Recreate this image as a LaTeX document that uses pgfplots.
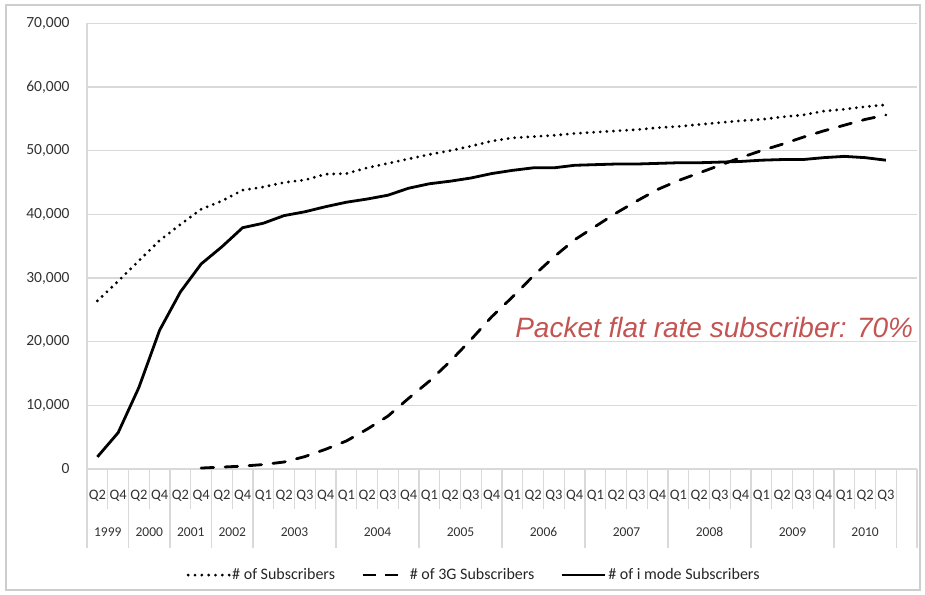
\documentclass[border=0pt]{standalone}
\usepackage{fontspec}
\setmainfont{Carlito}
\newfontfamily\arialf{Liberation Sans}
\usepackage{pgfplots}
\usepackage{pgfplotstable}
\pgfplotsset{compat=1.18}
\usetikzlibrary{calc}

\definecolor{gridc}{RGB}{217,217,217}
\definecolor{framec}{RGB}{205,205,205}
\definecolor{labc}{RGB}{50,50,50}
\definecolor{annot}{RGB}{196,84,82}

% legend samples, one per line style
\pgfplotsset{
  dotlegend/.style={legend image code/.code={%
    \draw[##1, dash pattern=on 0pt off 6.83pt] (0pt,0pt) -- (41pt,0pt);
    \path (-1.5pt,0pt) (40.5pt,0pt);}},
  dashlegend/.style={legend image code/.code={%
    \draw[##1, line cap=butt, dash pattern=on 13pt off 9pt] (0pt,0pt) -- (35pt,0pt);
    \path (0pt,0pt) (44pt,0pt);}},
  solidlegend/.style={legend image code/.code={%
    \draw[##1] (0pt,0pt) -- (43pt,0pt);}},
}

% slot i is centred at i+0.5; 1999-2002 half-yearly, then quarterly
\pgfplotstableread{
x    total  imode
0.5  26400  1900
1.5  29500  5700
2.5  32700  12800
3.5  35900  21800
4.5  38400  27800
5.5  40800  32200
6.5  42100  34900
7.5  43800  37900
8.5  44300  38600
9.5  45000  39800
10.5 45400  40400
11.5 46300  41200
12.5 46400  41900
13.5 47300  42400
14.5 48000  43000
15.5 48700  44100
16.5 49400  44800
17.5 50000  45200
18.5 50700  45700
19.5 51500  46400
20.5 52000  46900
21.5 52200  47300
22.5 52400  47300
23.5 52700  47700
24.5 52900  47800
25.5 53100  47900
26.5 53300  47900
27.5 53600  48000
28.5 53800  48100
29.5 54100  48100
30.5 54400  48200
31.5 54700  48300
32.5 54900  48500
33.5 55300  48600
34.5 55600  48600
35.5 56200  48900
36.5 56500  49100
37.5 56900  48900
38.5 57200  48500
}\datamain

\pgfplotstableread{
x    g3
5.5  150
6.5  300
7.5  450
8.5  700
9.5  1100
10.5 1950
11.5 3100
12.5 4400
13.5 6250
14.5 8300
15.5 11100
16.5 13800
17.5 16900
18.5 20300
19.5 23900
20.5 27000
21.5 30300
22.5 33300
23.5 36000
24.5 38100
25.5 40200
26.5 42100
27.5 43900
28.5 45300
29.5 46500
30.5 47700
31.5 48900
32.5 50000
33.5 51000
34.5 52100
35.5 53100
36.5 54000
37.5 54900
38.5 55600
}\datathreeg

\begin{document}
\begin{tikzpicture}
\begin{axis}[
    name=ax,
    scale only axis,
    width=830pt, height=445.7pt,
    xmin=0, xmax=40,
    ymin=0, ymax=70000,
    clip=false,
    no marks,
    axis lines*=left,
    axis line style={gridc, line width=1.2pt},
    major tick length=0pt,
    ytick={0,10000,...,70000},
    ymajorgrids,
    grid style={gridc, line width=1.2pt},
    scaled y ticks=false,
    /pgf/number format/1000 sep={,},
    /pgf/number format/assume math mode=true,
    yticklabel style={font=\fontsize{15.5}{18}\selectfont, text=labc, xshift=-14pt},
    xtick={0.5,1.5,...,38.5},
    xticklabels={Q2,Q4,Q2,Q4,Q2,Q4,Q2,Q4,
      Q1,Q2,Q3,Q4,Q1,Q2,Q3,Q4,Q1,Q2,Q3,Q4,Q1,Q2,Q3,Q4,
      Q1,Q2,Q3,Q4,Q1,Q2,Q3,Q4,Q1,Q2,Q3,Q4,Q1,Q2,Q3},
    xticklabel style={anchor=base, yshift=-30pt, font=\fontsize{14.5}{17}\selectfont, text=labc},
    legend columns=3,
    legend cell align=left,
    legend style={at={(0.118,-0.238)}, anchor=west, draw=none, fill=none,
      inner sep=0pt, nodes={inner xsep=1.5pt},
      font=\fontsize{16}{19}\selectfont, text=black!85,
      /tikz/every even column/.append style={column sep=25pt}},
]
\addplot[black, line width=3.1pt, line cap=round, dash pattern=on 0pt off 6.6pt, dotlegend]
  table[x=x, y=total] {\datamain};
\addlegendentry{\# of Subscribers}
\addplot[black, line width=2.8pt, line cap=round, dash pattern=on 12.5pt off 11.5pt, dashlegend]
  table[x=x, y=g3] {\datathreeg};
\addlegendentry{\# of 3G Subscribers}
\addplot[black, line width=2.8pt, line join=round, solidlegend]
  table[x=x, y=imode] {\datamain};
\addlegendentry{\# of i mode Subscribers}

% category table under the axis
\pgfplotsinvokeforeach{0,...,40}{
  \draw[gridc, line width=1.2pt] (axis cs:#1,0) -- ++(0pt,-40pt);
}
\pgfplotsinvokeforeach{0,2,4,6,8,12,16,20,24,28,32,36,39,40}{
  \draw[gridc, line width=1.2pt] (axis cs:#1,0) -- ++(0pt,-79pt);
}
\begin{scope}[every node/.style={anchor=base, text=labc, font=\fontsize{13.5}{16}\selectfont}]
\node at ([yshift=-67pt]axis cs:1,0) {1999};
\node at ([yshift=-67pt]axis cs:3,0) {2000};
\node at ([yshift=-67pt]axis cs:5,0) {2001};
\node at ([yshift=-67pt]axis cs:7,0) {2002};
\node at ([yshift=-67pt]axis cs:10,0) {2003};
\node at ([yshift=-67pt]axis cs:14,0) {2004};
\node at ([yshift=-67pt]axis cs:18,0) {2005};
\node at ([yshift=-67pt]axis cs:22,0) {2006};
\node at ([yshift=-67pt]axis cs:26,0) {2007};
\node at ([yshift=-67pt]axis cs:30,0) {2008};
\node at ([yshift=-67pt]axis cs:34,0) {2009};
\node at ([yshift=-67pt]axis cs:37.5,0) {2010};
\end{scope}

\node[anchor=base west, inner sep=0pt, text=annot, font=\arialf\itshape\fontsize{28}{32}\selectfont]
  at (axis cs:20.63,20700) {Packet flat rate subscriber: 70\%};
\end{axis}

\draw[framec, line width=1.2pt]
  ($(ax.south west)+(-81pt,-121pt)$) rectangle ($(ax.south west)+(833pt,464pt)$);
\pgfresetboundingbox
\useasboundingbox ($(ax.south west)+(-87pt,-125pt)$) rectangle ($(ax.south west)+(838pt,469pt)$);
\end{tikzpicture}
\end{document}
